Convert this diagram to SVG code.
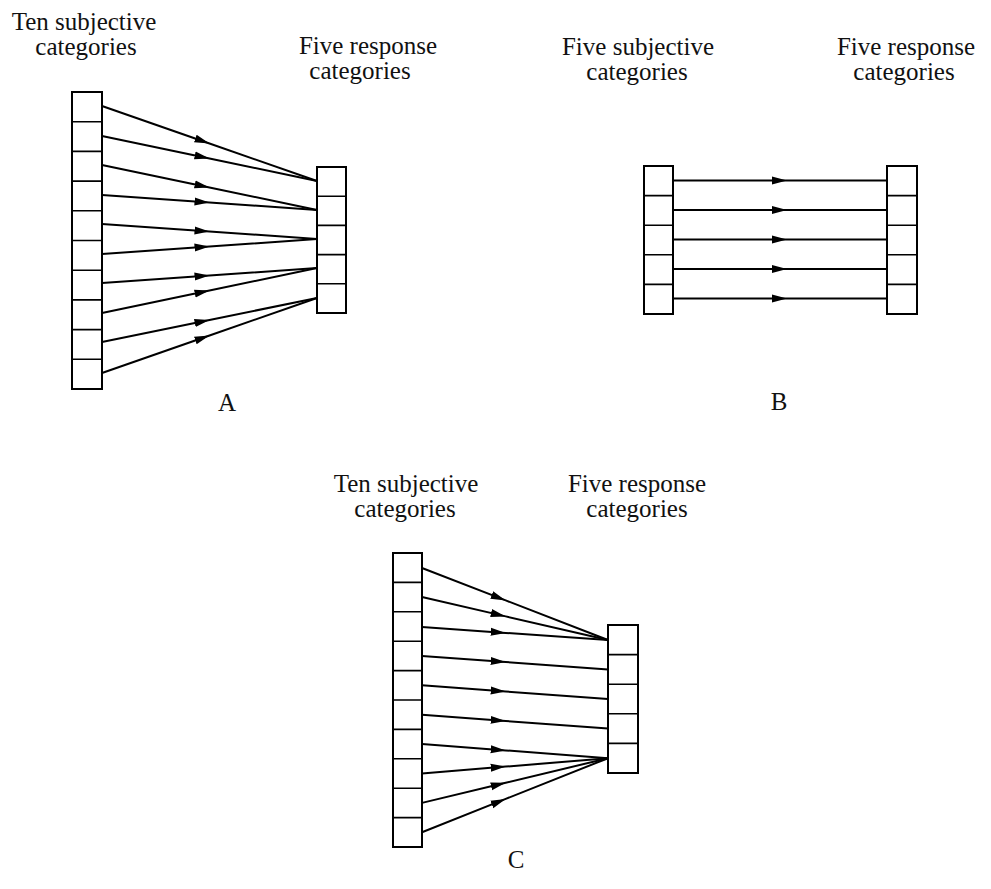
<svg xmlns="http://www.w3.org/2000/svg" width="991" height="889" viewBox="0 0 991 889">
<defs>
<marker id="arr" markerUnits="userSpaceOnUse" markerWidth="17" markerHeight="10" refX="15" refY="5" orient="auto">
<path d="M0,1 L15,5 L0,9 z" fill="#000"/>
</marker>
</defs>
<style>
.lbl{font-family:"Liberation Serif","Times New Roman",serif;font-size:25px;fill:#111;text-anchor:middle}
.box{fill:#fff;stroke:#000;stroke-width:2}
.div{stroke:#000;stroke-width:1.6}
.c path{fill:none;stroke:#000;stroke-width:2;marker-mid:url(#arr)}
</style>
<rect width="991" height="889" fill="#fff"/>

<g id="labels">
<text class="lbl" x="84" y="30">Ten subjective</text>
<text class="lbl" x="86" y="55">categories</text>
<text class="lbl" x="368" y="54">Five response</text>
<text class="lbl" x="360" y="79">categories</text>
<text class="lbl" x="638" y="55">Five subjective</text>
<text class="lbl" x="637" y="80">categories</text>
<text class="lbl" x="906" y="55">Five response</text>
<text class="lbl" x="904" y="80">categories</text>
<text class="lbl" x="406" y="492">Ten subjective</text>
<text class="lbl" x="405" y="517">categories</text>
<text class="lbl" x="637" y="492">Five response</text>
<text class="lbl" x="637" y="517">categories</text>
<text class="lbl" x="227" y="411">A</text>
<text class="lbl" x="779" y="410">B</text>
<text class="lbl" x="516" y="868">C</text>
</g>

<g id="A-left">
<rect class="box" x="72" y="92" width="30" height="297"/>
<path class="div" d="M72,121.7H102M72,151.4H102M72,181.1H102M72,210.8H102M72,240.5H102M72,270.2H102M72,299.9H102M72,329.6H102M72,359.3H102"/>
</g>
<g id="A-right">
<rect class="box" x="317" y="167" width="29" height="146"/>
<path class="div" d="M317,196.2H346M317,225.4H346M317,254.6H346M317,283.8H346"/>
</g>
<g id="B-left">
<rect class="box" x="644" y="166" width="29" height="148"/>
<path class="div" d="M644,195.6H673M644,225.2H673M644,254.8H673M644,284.4H673"/>
</g>
<g id="B-right">
<rect class="box" x="887" y="166" width="30" height="148"/>
<path class="div" d="M887,195.6H917M887,225.2H917M887,254.8H917M887,284.4H917"/>
</g>
<g id="C-left">
<rect class="box" x="393" y="553" width="29" height="294"/>
<path class="div" d="M393,582.4H422M393,611.8H422M393,641.2H422M393,670.6H422M393,700H422M393,729.4H422M393,758.8H422M393,788.2H422M393,817.6H422"/>
</g>
<g id="C-right">
<rect class="box" x="608" y="625" width="30" height="148"/>
<path class="div" d="M608,654.6H638M608,684.2H638M608,713.8H638M608,743.4H638"/>
</g>

<g id="connectors" class="c">
<path d="M102,106 L209.5,143.5 L317,181"/>
<path d="M102,136 L209.5,158.5 L317,181"/>
<path d="M102,165 L209.5,187.5 L317,210"/>
<path d="M102,195 L209.5,202.5 L317,210"/>
<path d="M102,224 L209.5,231.5 L317,239"/>
<path d="M102,254 L209.5,246.5 L317,239"/>
<path d="M102,283 L209.5,275.5 L317,268"/>
<path d="M102,313 L209.5,290.5 L317,268"/>
<path d="M102,342 L209.5,320 L317,298"/>
<path d="M102,373 L209.5,335.5 L317,298"/>

<path d="M673,180.5 L787,180.5 L887,180.5"/>
<path d="M673,210 L787,210 L887,210"/>
<path d="M673,239.5 L787,239.5 L887,239.5"/>
<path d="M673,269 L787,269 L887,269"/>
<path d="M673,298.5 L787,298.5 L887,298.5"/>

<path d="M422,568 L505.7,600.4 L608,640"/>
<path d="M422,597 L505.7,616.4 L608,640"/>
<path d="M422,627 L505.7,632.9 L608,640"/>
<path d="M422,656 L505.7,662 L608,669.4"/>
<path d="M422,685.3 L505.7,691.5 L608,699"/>
<path d="M422,714.7 L505.7,721 L608,728.6"/>
<path d="M422,744.1 L505.7,750.4 L608,758.2"/>
<path d="M422,773.5 L505.7,766.6 L608,758.2"/>
<path d="M422,802.9 L505.7,782.8 L608,758.2"/>
<path d="M422,832.3 L505.7,798.9 L608,758.2"/>
</g>
</svg>
